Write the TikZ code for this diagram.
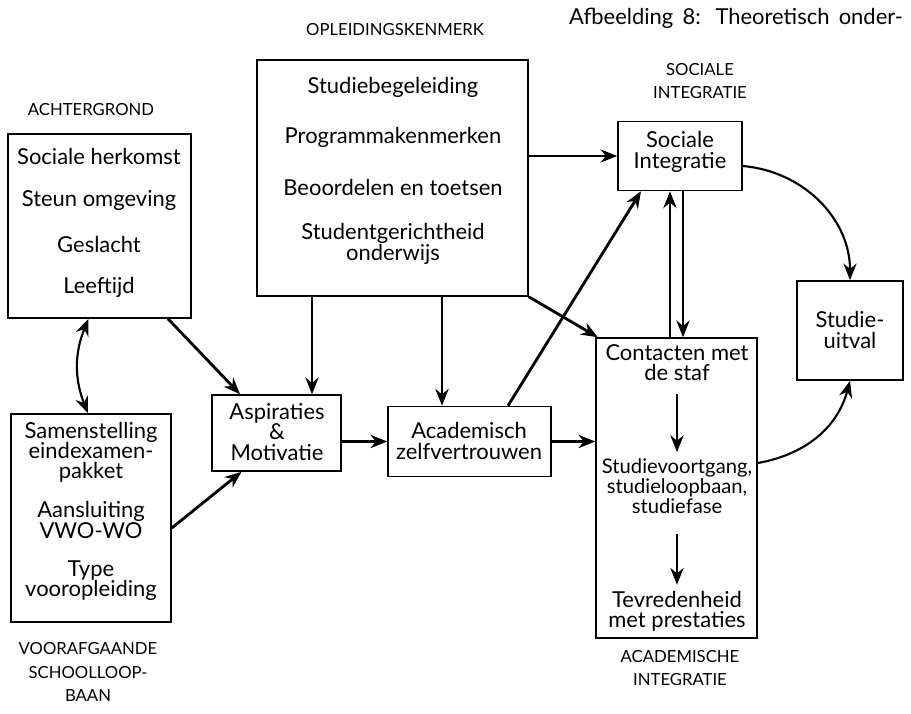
\documentclass[tikz,border=0pt]{standalone}
\usepackage{fontspec}
\setmainfont{Lato}
\usetikzlibrary{arrows.meta,calc}

\tikzset{
  box/.style={draw, line width=0.9pt, inner sep=0pt},
  txt/.style={align=center, font=\fontsize{12.5}{11.5}\selectfont},
  lbl/.style={align=center, font=\fontsize{9.5}{13.5}\selectfont},
  link/.style={->, line width=1.6pt},
  bow/.style={->, line width=1.2pt},
}

\begin{document}
\begin{tikzpicture}[x=0.02cm, y=-0.02cm, >={Stealth[length=9.5pt,width=7.5pt]}]
  \useasboundingbox (0,0) rectangle (911,713);
  % ------- headings -------
  \node[anchor=west, font=\fontsize{12.5}{14}\selectfont] (title) at (563,18)
    {\makebox[190pt][s]{Afbeelding 8: Theoretisch onder-}};
  \node[lbl] (lok) at (395,30) {OPLEIDINGSKENMERK};
  \node[lbl] (lach) at (91,110) {ACHTERGROND};
  \node[lbl] (lsoc) at (700,81) {SOCIALE\\INTEGRATIE};
  \node[lbl] (lvoor) at (88,672) {VOORAFGAANDE\\SCHOOLLOOP-\\BAAN};
  \node[lbl] (laca) at (680,668) {ACADEMISCHE\\INTEGRATIE};
  % ------- boxes -------
  \node[box, minimum width=3.66cm, minimum height=3.68cm] (ach) at (99.5,226) {};
  \node[box, minimum width=3.20cm, minimum height=4.16cm] (voor) at (91,518) {};
  \node[box, minimum width=5.42cm, minimum height=4.72cm] (ok) at (392.5,178) {};
  \node[box, minimum width=2.58cm, minimum height=1.52cm] (asp) at (276.5,433) {};
  \node[box, minimum width=3.26cm, minimum height=1.40cm] (acad) at (469.5,441.5) {};
  \node[box, minimum width=2.48cm, minimum height=1.38cm] (soc) at (680,156) {};
  \node[box, minimum width=3.22cm, minimum height=6.00cm] (con) at (676.5,488) {};
  \node[box, minimum width=2.12cm, minimum height=1.98cm] (uit) at (850,330.5) {};
  % ------- box texts -------
  \node[txt] (ach1) at (99,156) {Sociale herkomst};
  \node[txt] (ach2) at (99,200) {Steun omgeving};
  \node[txt] (ach3) at (99,244) {Geslacht};
  \node[txt] (ach4) at (99,287) {Leeftijd};
  \node[txt] (voor1) at (91,452) {Samenstelling\\eindexamen-\\pakket};
  \node[txt] (voor2) at (91,520) {Aansluiting\\VWO-WO};
  \node[txt] (voor3) at (91,581) {Type\\vooropleiding};
  \node[txt] (ok1) at (393,87) {Studiebegeleiding};
  \node[txt] (ok2) at (393,137) {Programmakenmerken};
  \node[txt] (ok3) at (393,187) {Beoordelen en toetsen};
  \node[txt] (ok4) at (393,244) {Studentgerichtheid\\onderwijs};
  \node[txt] (asp1) at (277,432) {Aspiraties\\\&\\Motivatie};
  \node[txt] (acad1) at (469,441) {Academisch\\zelfvertrouwen};
  \node[txt] (soc1) at (680,152) {Sociale\\Integratie};
  \node[txt] (uit1) at (850,330) {Studie-\\uitval};
  \node[txt] (con1) at (677,363) {Contacten met\\de staf};
  \node[txt, font=\fontsize{11.5}{11.5}\selectfont] (con2) at (677,486)
    {Studievoortgang,\\studieloopbaan,\\studiefase};
  \node[txt] (con3) at (677,611) {Tevredenheid\\met prestaties};
  % ------- end points on the box edges -------
  \coordinate (achout) at ([xshift=1.37cm]ach.south);
  \coordinate (achlink) at ([xshift=-0.22cm]ach.south);
  \coordinate (voorlink) at ([xshift=-0.06cm]voor.north);
  \coordinate (voorout) at ([yshift=-0.2cm]voor.east);
  \coordinate (aspin) at ([xshift=-0.73cm]asp.north);
  \coordinate (aspok) at ([xshift=0.71cm]asp.north);
  \coordinate (aspvoor) at ([xshift=-0.70cm]asp.south);
  \coordinate (acadok) at ([xshift=-0.55cm]acad.north);
  \coordinate (acadout) at ([xshift=0.77cm]acad.north);
  \coordinate (socin) at ([xshift=-0.78cm]soc.south);
  \coordinate (socout) at ([yshift=-0.2cm]soc.east);
  \coordinate (cup) at ([xshift=-0.13cm]con.north);
  \coordinate (cdown) at ([xshift=0.13cm]con.north);
  \coordinate (conout) at ([yshift=0.5cm]con.east);
  % ------- connectors -------
  \draw[link] (soc.west -| ok.east) -- (soc.west);
  \draw[link] (aspok |- ok.south) -- (aspok);
  \draw[link] (acadok |- ok.south) -- (acadok);
  \draw[link] (ok.south east) -- ([xshift=0.05cm]con.north west);
  \draw[link] (acadout) -- (socin);
  \draw[link] (cup) -- (cup |- soc.south);
  \draw[link] (cdown |- soc.south) -- (cdown);
  \draw[link] (achout) -- (aspin);
  \draw[<->, line width=1.2pt] (achlink) to[bend right=22] (voorlink);
  \draw[link] (voorout) -- (aspvoor);
  \draw[link] (acad.west -| asp.east) -- (acad.west);
  \draw[link] (acad.east) -- (acad.east -| con.west);
  \draw[bow] (socout) to[out=-5, in=90] (uit.north);
  \draw[bow] (conout) to[out=10, in=-105] (uit.south);
  % inside the contact box
  \draw[link, shorten <=4pt] (con1) -- (con2);
  \draw[link, shorten <=8pt] (con2) -- (con3);
\end{tikzpicture}
\end{document}
